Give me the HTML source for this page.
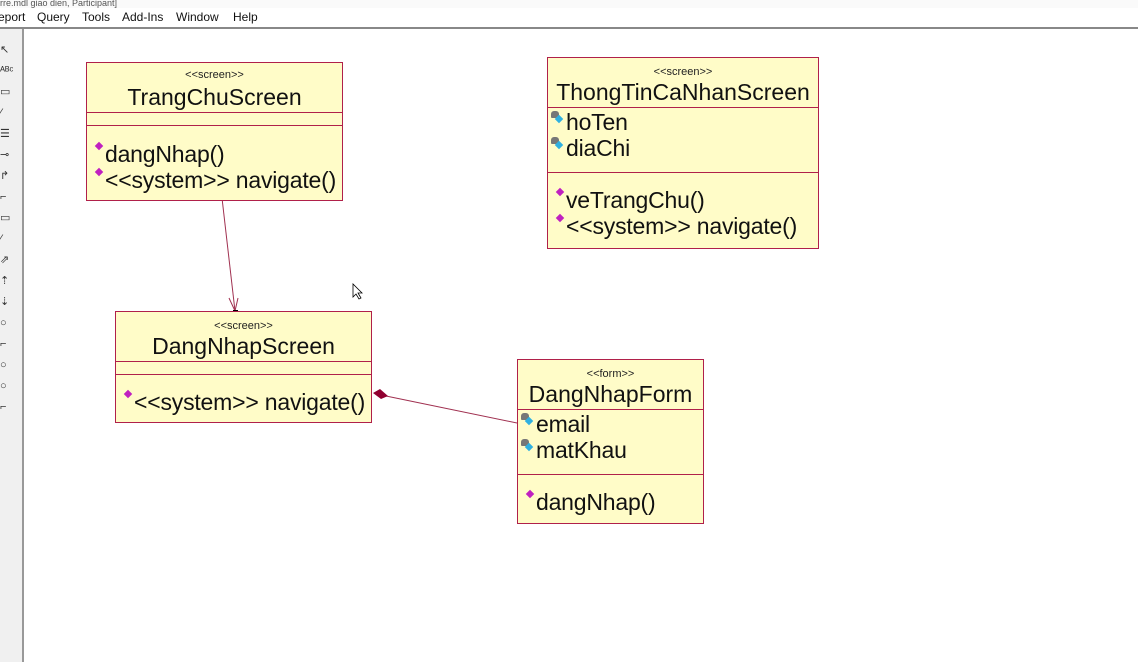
<!DOCTYPE html><html><head><style>
body{margin:0;width:1138px;height:662px;background:#fff;position:relative;overflow:hidden;font-family:"Liberation Sans",sans-serif}
.a{position:absolute}
.box{position:absolute;background:#fffcc8;border:1px solid #b0204a;box-sizing:border-box}
.sep{position:absolute;left:0;right:0;border-top:1px solid #b0204a}
.st{position:absolute;left:0;right:0;text-align:center;font-size:11px;color:#222}
.nm{position:absolute;left:0;right:0;text-align:center;font-size:23px;color:#111}
.m{position:absolute;font-size:23px;color:#111;white-space:nowrap;letter-spacing:-0.2px}
.op::before{content:"";position:absolute;left:-9px;top:2px;width:6px;height:6px;background:#c020c0;transform:rotate(45deg)}
.at::before{content:"";position:absolute;left:-15px;top:2px;width:8px;height:7px;background:#777;border-radius:3px 3px 1px 1px}
.at::after{content:"";position:absolute;left:-10px;top:7px;width:6px;height:6px;background:#30b0e0;transform:rotate(45deg)}
</style></head><body>
<div class="a" style="left:0;top:0;width:1138px;height:8px;background:#fafafa;font-size:9px;color:#555;line-height:6px">rre.mdl giao dien, Participant]</div>
<div class="a" style="left:0;top:8px;width:1138px;height:19px;background:#fff;font-size:12px;line-height:19px;color:#111">
<span class="a" style="left:-2px">eport</span><span class="a" style="left:37px">Query</span><span class="a" style="left:82px">Tools</span><span class="a" style="left:122px">Add-Ins</span><span class="a" style="left:176px">Window</span><span class="a" style="left:233px">Help</span></div>
<div class="a" style="left:0;top:27px;width:1138px;height:2px;background:#888"></div>
<div class="a" style="left:0;top:29px;width:22px;height:633px;background:#f0f0f0;border-right:2px solid #999"></div>
<div class="a" style="left:0;top:40px;width:14px;height:380px;font-size:11px;line-height:21px;color:#333">↖<br>ᴬᴮᶜ<br>▭<br>⁄<br>☰<br>⊸<br>↱<br>⌐<br>▭<br>⁄<br>⇗<br>⇡<br>⇣<br>○<br>⌐<br>○<br>○<br>⌐</div>

<svg class="a" style="left:0;top:0" width="1138" height="662">
<line x1="222" y1="198" x2="235" y2="311" stroke="#a03050" stroke-width="1"/>
<polyline points="229,298 235,311 238,298" fill="none" stroke="#a03050"/>
<rect x="220" y="195" width="5" height="5" fill="#000"/>
<rect x="233" y="310" width="5" height="5" fill="#000"/>
<line x1="386" y1="396" x2="517" y2="423" stroke="#a03050"/>
<polygon points="373,393 380,389 388,396 381,399" fill="#900030"/>
<path d="M353 284 L353 297 L356 294 L359 299 L361 298 L358 293 L362 293 Z" fill="#fff" stroke="#000" stroke-width="0.8"/>
</svg>

<div class="box" style="left:86px;top:62px;width:257px;height:139px">
<div class="st" style="top:6px">&lt;&lt;screen&gt;&gt;</div><div class="nm" style="top:21px">TrangChuScreen</div>
<div class="sep" style="top:49px"></div><div class="sep" style="top:62px"></div>
<div class="m op" style="left:18px;top:78px">dangNhap()</div>
<div class="m op" style="left:18px;top:104px">&lt;&lt;system&gt;&gt; navigate()</div></div>

<div class="box" style="left:547px;top:57px;width:272px;height:192px">
<div class="st" style="top:8px">&lt;&lt;screen&gt;&gt;</div><div class="nm" style="top:21px">ThongTinCaNhanScreen</div>
<div class="sep" style="top:49px"></div><div class="sep" style="top:114px"></div>
<div class="m at" style="left:18px;top:51px">hoTen</div>
<div class="m at" style="left:18px;top:77px">diaChi</div>
<div class="m op" style="left:18px;top:129px">veTrangChu()</div>
<div class="m op" style="left:18px;top:155px">&lt;&lt;system&gt;&gt; navigate()</div></div>

<div class="box" style="left:115px;top:311px;width:257px;height:112px">
<div class="st" style="top:8px">&lt;&lt;screen&gt;&gt;</div><div class="nm" style="top:21px">DangNhapScreen</div>
<div class="sep" style="top:49px"></div><div class="sep" style="top:62px"></div>
<div class="m op" style="left:18px;top:77px">&lt;&lt;system&gt;&gt; navigate()</div></div>

<div class="box" style="left:517px;top:359px;width:187px;height:165px">
<div class="st" style="top:8px">&lt;&lt;form&gt;&gt;</div><div class="nm" style="top:21px">DangNhapForm</div>
<div class="sep" style="top:49px"></div><div class="sep" style="top:114px"></div>
<div class="m at" style="left:18px;top:51px">email</div>
<div class="m at" style="left:18px;top:77px">matKhau</div>
<div class="m op" style="left:18px;top:129px">dangNhap()</div></div>
</body></html>
